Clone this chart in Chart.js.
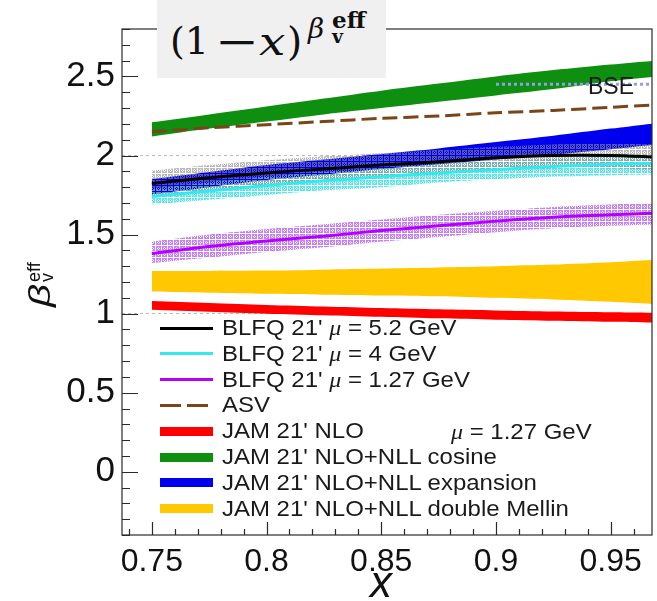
<!DOCTYPE html>
<html>
<head>
<meta charset="utf-8">
<script src="https://cdn.jsdelivr.net/npm/chart.js@4.4.1/dist/chart.umd.min.js"></script>
<style>
html, body { margin: 0; padding: 0; background: #fff; }
#wrap { position: relative; width: 657px; height: 601px; overflow: hidden; font-family: "Liberation Sans", Arial, sans-serif; color: #1a1a1a; }
#chart { position: absolute; left: 0; top: 0; }
#formula { position: absolute; left: 157px; top: 0; width: 229px; height: 78px; background: #f0f0f0; font-family: "DejaVu Serif", serif; color: #111; }
#formula span, #ytitle span { position: absolute; line-height: 1; white-space: nowrap; }
#ytitle { position: absolute; left: 16px; top: 269px; width: 50px; height: 26px; transform: rotate(-90deg); color: #111; }
#xtitle { position: absolute; left: 370px; top: 560px; font-size: 44px; font-style: italic; line-height: 1; color: #111; }
.row { position: absolute; left: 160px; height: 26px; }
.sample { position: absolute; left: 0; width: 53px; }
.txt { position: absolute; left: 62px; top: 0; line-height: 26px; font-size: 22px; white-space: nowrap; transform-origin: 0 50%; transform: scaleX(1.09); }
.mu { font-family: "Liberation Serif", serif; font-style: italic; }
#muNote { position: absolute; left: 451px; top: 419px; line-height: 26px; font-size: 22px; white-space: nowrap; transform-origin: 0 50%; transform: scaleX(1.09); }
#bse { position: absolute; left: 588px; top: 74px; font-size: 23px; line-height: 24px; }
</style>
</head>
<body>
<div id="wrap">
  <canvas id="chart" width="657" height="601"></canvas>
  <div id="formula">
    <span style="left:13px;top:22px;font-size:38px">(1</span>
    <span style="left:58px;top:22px;font-size:39px;transform-origin:0 50%;transform:scaleX(1.35)">−</span>
    <span style="left:102px;top:22px;font-size:39px;font-style:italic;transform-origin:0 50%;transform:scaleX(1.2)">x</span>
    <span style="left:130px;top:22px;font-size:39px">)</span>
    <span style="left:151px;top:15px;font-size:28px;font-style:italic">β</span>
    <span style="left:175px;top:8px;font-size:23px;font-weight:bold">eff</span>
    <span style="left:175px;top:27px;font-size:19px;font-weight:bold">v</span>
  </div>
  <div id="ytitle">
    <span style="left:0;top:-3px;font-size:30px;font-style:italic;transform-origin:0 50%;transform:scaleX(1.35)">β</span>
    <span style="left:25px;top:-3px;font-size:18px">eff</span>
    <span style="left:25px;top:10px;font-size:18px">v</span>
  </div>
  <div id="xtitle">x</div>
  <div id="legend"></div>
  <div id="muNote"><span class="mu">μ</span> = 1.27 GeV</div>
  <div id="bse">BSE</div>
</div>
<script>
// beta_v^eff
const xValues = [0.75, 0.775, 0.8, 0.825, 0.85, 0.875, 0.9, 0.925, 0.95, 0.97];

const blfq52 = [1.823, 1.86, 1.89, 1.915, 1.94, 1.96, 1.985, 2.0, 2.0, 1.99];
const blfq52Hi = [1.905, 1.94, 1.97, 1.995, 2.015, 2.035, 2.055, 2.07, 2.075, 2.07];
const blfq52Lo = [1.745, 1.78, 1.81, 1.835, 1.86, 1.88, 1.905, 1.92, 1.92, 1.91];

const blfq4 = [1.74, 1.775, 1.81, 1.84, 1.865, 1.89, 1.91, 1.93, 1.945, 1.95];
const blfq4Hi = [1.79, 1.83, 1.865, 1.895, 1.92, 1.945, 1.965, 1.98, 1.99, 1.995];
const blfq4Lo = [1.69, 1.72, 1.75, 1.78, 1.80, 1.83, 1.85, 1.865, 1.875, 1.88];

const blfq127 = [1.38, 1.425, 1.46, 1.49, 1.525, 1.555, 1.585, 1.61, 1.625, 1.635];
const blfq127Hi = [1.455, 1.50, 1.535, 1.565, 1.595, 1.625, 1.65, 1.675, 1.69, 1.70];
const blfq127Lo = [1.32, 1.355, 1.39, 1.42, 1.455, 1.485, 1.515, 1.54, 1.555, 1.565];

const asv = [2.15, 2.175, 2.195, 2.215, 2.235, 2.25, 2.27, 2.285, 2.305, 2.32];

const nloHi = [1.08, 1.067, 1.055, 1.045, 1.035, 1.027, 1.02, 1.013, 1.008, 1.005];
const nloLo = [1.025, 1.012, 1.0, 0.99, 0.98, 0.97, 0.962, 0.955, 0.948, 0.943];
const cosineHi = [2.21, 2.26, 2.31, 2.36, 2.41, 2.455, 2.50, 2.54, 2.575, 2.60];
const cosineLo = [2.12, 2.17, 2.215, 2.26, 2.30, 2.34, 2.38, 2.42, 2.47, 2.50];
const expansionHi = [1.85, 1.895, 1.94, 1.975, 2.01, 2.045, 2.085, 2.125, 2.17, 2.205];
const expansionLo = [1.755, 1.80, 1.845, 1.88, 1.915, 1.945, 1.975, 2.005, 2.04, 2.07];
const mellinHi = [1.27, 1.27, 1.272, 1.278, 1.285, 1.292, 1.30, 1.31, 1.325, 1.34];
const mellinLo = [1.14, 1.132, 1.125, 1.12, 1.115, 1.11, 1.10, 1.09, 1.075, 1.06];

const bseX = [0.9, 0.97];
const bse = [2.45, 2.45];

const refLines = [1, 2];
const xTicks = [0.75, 0.8, 0.85, 0.9, 0.95];
const yTicks = [0, 0.5, 1, 1.5, 2, 2.5];

const legendLabels = [
  "BLFQ 21' μ = 5.2 GeV",
  "BLFQ 21' μ = 4 GeV",
  "BLFQ 21' μ = 1.27 GeV",
  "ASV",
  "JAM 21' NLO",
  "JAM 21' NLO+NLL cosine",
  "JAM 21' NLO+NLL expansion",
  "JAM 21' NLO+NLL double Mellin"
];
const legendColors = ['#000000', '#33e8ee', '#b400ff', '#7a4519', '#ff0000', '#0f8f0f', '#0000ee', '#ffc800'];
const legendKinds = ['line', 'line', 'line', 'dash', 'band', 'band', 'band', 'band'];

function pts(ys, xs) {
  xs = xs || xValues;
  return ys.map((y, i) => ({ x: xs[i], y: y }));
}

function hatch(color) {
  const c = document.createElement('canvas');
  c.width = 6;
  c.height = 6;
  const g = c.getContext('2d');
  g.strokeStyle = color;
  g.lineWidth = 1;
  g.strokeRect(0.5, 0.5, 4, 4);
  g.beginPath();
  g.moveTo(1, 1); g.lineTo(4, 4);
  g.moveTo(4, 1); g.lineTo(1, 4);
  g.stroke();
  return g.createPattern(c, 'repeat');
}

function curve(label, ys, color, width, dash) {
  return {
    label: label, data: pts(ys), borderColor: color, borderWidth: width,
    borderDash: dash || [], pointRadius: 0, fill: false, tension: 0.3, clip: 0
  };
}

function band(label, hi, lo, fillStyle) {
  return [
    { label: label + ' upper', data: pts(hi), borderColor: 'transparent', borderWidth: 0, pointRadius: 0, fill: false, tension: 0.3, clip: 0 },
    { label: label, data: pts(lo), borderColor: 'transparent', borderWidth: 0, pointRadius: 0, fill: '-1', backgroundColor: fillStyle, tension: 0.3, clip: 0 }
  ];
}

// first dataset ends up on top
const datasets = [
  curve(legendLabels[0], blfq52, '#000000', 3),
  curve(legendLabels[1], blfq4, '#33e8ee', 3),
  curve(legendLabels[2], blfq127, '#b400ff', 3),
  curve(legendLabels[3], asv, '#7a4519', 3, [15, 6]),
  {
    label: 'BSE', data: pts(bse, bseX), borderColor: '#9a9af2', borderWidth: 3,
    borderDash: [3, 3], pointRadius: 0, fill: false, clip: 0
  },
  ...band('BLFQ 5.2 band', blfq52Hi, blfq52Lo, hatch('rgba(140,140,140,0.6)')),
  ...band('BLFQ 4 band', blfq4Hi, blfq4Lo, hatch('rgba(30,225,235,0.75)')),
  ...band('BLFQ 1.27 band', blfq127Hi, blfq127Lo, hatch('rgba(185,95,255,0.8)')),
  ...band(legendLabels[6], expansionHi, expansionLo, '#0000ee'),
  ...band(legendLabels[5], cosineHi, cosineLo, '#0f8f0f'),
  ...band(legendLabels[7], mellinHi, mellinLo, '#ffc800'),
  ...band(legendLabels[4], nloHi, nloLo, '#ff0000')
];

const frameTicks = {
  id: 'frameTicks',
  afterDraw(chart) {
    const { ctx, chartArea: a, scales: { x, y } } = chart;
    ctx.save();
    ctx.strokeStyle = '#2a2a2a';
    ctx.lineWidth = 1.2;
    ctx.strokeRect(a.left, a.top, a.right - a.left, a.bottom - a.top);
    ctx.beginPath();
    for (let i = Math.ceil(x.min * 100); i <= Math.floor(x.max * 100); i++) {
      const px = Math.round(x.getPixelForValue(i / 100)) + 0.5;
      const len = i % 5 === 0 ? 13 : 6;
      ctx.moveTo(px, a.bottom);
      ctx.lineTo(px, a.bottom - len);
    }
    for (let i = Math.ceil(y.min * 10 - 1e-9); i <= Math.floor(y.max * 10 + 1e-9); i++) {
      const py = Math.round(y.getPixelForValue(i / 10)) + 0.5;
      const len = i % 5 === 0 ? 16 : 8;
      ctx.moveTo(a.left, py);
      ctx.lineTo(a.left + len, py);
    }
    ctx.stroke();
    ctx.restore();
  }
};

new Chart(document.getElementById('chart'), {
  type: 'line',
  data: { datasets: datasets },
  options: {
    responsive: false,
    animation: false,
    devicePixelRatio: 1,
    layout: { padding: { top: 29, right: 5, left: 0, bottom: 0 } },
    plugins: { legend: { display: false }, tooltip: { enabled: false } },
    scales: {
      x: {
        type: 'linear',
        min: 0.737,
        max: 0.968,
        afterBuildTicks: s => { s.ticks = xTicks.map(v => ({ value: v })); },
        afterFit: s => { s.height = 66; },
        grid: { display: false, drawTicks: false },
        border: { display: false },
        ticks: {
          padding: 8, autoSkip: false, maxRotation: 0, color: '#111',
          font: { family: 'Liberation Sans', size: 32 },
          callback: v => String(v)
        }
      },
      y: {
        type: 'linear',
        min: -0.4,
        max: 2.8,
        afterBuildTicks: s => { s.ticks = yTicks.map(v => ({ value: v })); },
        afterFit: s => { s.width = 122; },
        grid: {
          drawTicks: false, lineWidth: 1,
          color: c => (c.tick && refLines.includes(c.tick.value)) ? '#b8b8b8' : 'rgba(0,0,0,0)'
        },
        border: { display: false, dash: [3, 3] },
        ticks: {
          padding: 7, autoSkip: false, color: '#111',
          font: { family: 'Liberation Sans', size: 35 },
          callback: v => String(v)
        }
      }
    }
  },
  plugins: [frameTicks]
});

// legend inside the frame
const legend = document.getElementById('legend');
legendLabels.forEach((lab, i) => {
  const row = document.createElement('div');
  row.className = 'row';
  row.style.top = (315 + i * 25.8) + 'px';
  const s = document.createElement('div');
  s.className = 'sample';
  const kind = legendKinds[i];
  const h = kind === 'band' ? 9 : 3;
  s.style.height = h + 'px';
  s.style.top = (13 - h / 2) + 'px';
  if (kind === 'dash') {
    s.style.background = 'repeating-linear-gradient(90deg,' + legendColors[i] + ' 0 21px, transparent 21px 27px)';
  } else {
    s.style.background = legendColors[i];
  }
  const t = document.createElement('div');
  t.className = 'txt';
  t.innerHTML = lab.replace('μ', '<span class="mu">μ</span>');
  row.appendChild(s);
  row.appendChild(t);
  legend.appendChild(row);
});
</script>
</body>
</html>
